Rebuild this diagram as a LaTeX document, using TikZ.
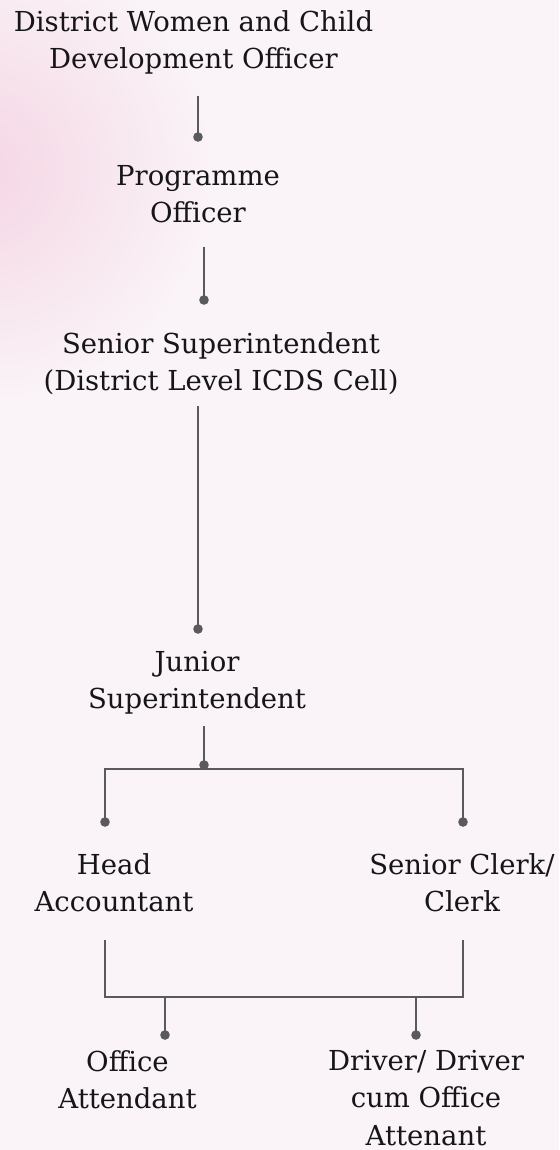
\documentclass[tikz,border=0pt]{standalone}
\usepackage{fontspec}
\setmainfont{DejaVu Serif}
\usepackage{xcolor}
\usetikzlibrary{positioning,calc}
\definecolor{pagebg}{RGB}{250,244,248}
\definecolor{blush}{RGB}{245,214,228}
\definecolor{linegray}{RGB}{90,90,94}
\definecolor{labeltext}{RGB}{22,22,22}
\tikzset{
  rolelabel/.style={font=\fontsize{27.5}{37.5}\selectfont, align=center, text=labeltext, inner sep=0pt, anchor=north},
  linkline/.style={draw=linegray, line width=2.6pt, line join=miter},
  linkdot/.style={fill=linegray},
}

\begin{document}
\begin{tikzpicture}[x=1pt,y=-1pt]
  \useasboundingbox (0,0) rectangle (559,1150);

  % Background
  \fill[pagebg] (0,0) rectangle (559,1150);
  \begin{scope}
    \clip (0,0) rectangle (559,1150);
    \shade[inner color=blush, outer color=pagebg] (-20,170) circle (240);
  \end{scope}

  % Posts
  \node[rolelabel] (dwcdo) at (193.5,10) {District Women and Child\\Development Officer};
  \node[rolelabel] (progoff) at (198,165) {Programme\\Officer};
  \node[rolelabel] (srsupt) at (221,332) {Senior Superintendent\\(District Level ICDS Cell)};
  \node[rolelabel] (jrsupt) at (197,651) {Junior\\Superintendent};
  \node[rolelabel] (headacc) at (114,853) {Head\\Accountant};
  \node[rolelabel] (clerk) at (462,853) {Senior Clerk/\\Clerk};
  \node[rolelabel] (offatt) at (127.5,1050) {Office\\Attendant};
  \node[rolelabel] (driver) at (426,1050) {Driver/ Driver\\cum Office\\Attenant};

  % Line ends
  \coordinate (dwcdo-out) at (198,96);   \coordinate (progoff-in) at (198,137);
  \coordinate (progoff-out) at (204,247); \coordinate (srsupt-in) at (204,300);
  \coordinate (srsupt-out) at (198,406); \coordinate (jrsupt-in) at (198,629);
  \coordinate (jrsupt-out) at (204,726); \coordinate (split-mid) at (204,769);
  \coordinate (split-l) at (105,769);    \coordinate (split-r) at (463,769);
  \coordinate (headacc-in) at (105,822); \coordinate (clerk-in) at (463,822);
  \coordinate (headacc-out) at (105,940); \coordinate (clerk-out) at (463,940);
  \coordinate (merge-l) at (105,997);    \coordinate (merge-r) at (463,997);
  \coordinate (drop-att) at (165,997);   \coordinate (offatt-in) at (165,1035);
  \coordinate (drop-drv) at (416,997);   \coordinate (driver-in) at (416,1035);

  % Connectors
  \draw[linkline] (dwcdo-out) -- (progoff-in);
  \draw[linkline] (progoff-out) -- (srsupt-in);
  \draw[linkline] (srsupt-out) -- (jrsupt-in);
  \draw[linkline] (jrsupt-out) -- (split-mid);
  \draw[linkline] (headacc-in) -- (split-l) -- (split-r) -- (clerk-in);
  \draw[linkline] (headacc-out) -- (merge-l) -- (merge-r) -- (clerk-out);
  \draw[linkline] (drop-att) -- (offatt-in);
  \draw[linkline] (drop-drv) -- (driver-in);

  % Dots
  \foreach \p in {progoff-in,srsupt-in,jrsupt-in,headacc-in,clerk-in,offatt-in,driver-in}
    \fill[linkdot] (\p) circle (4.8);
  \fill[linkdot] ($(split-mid)+(0,-4)$) circle (4.8);
\end{tikzpicture}
\end{document}
